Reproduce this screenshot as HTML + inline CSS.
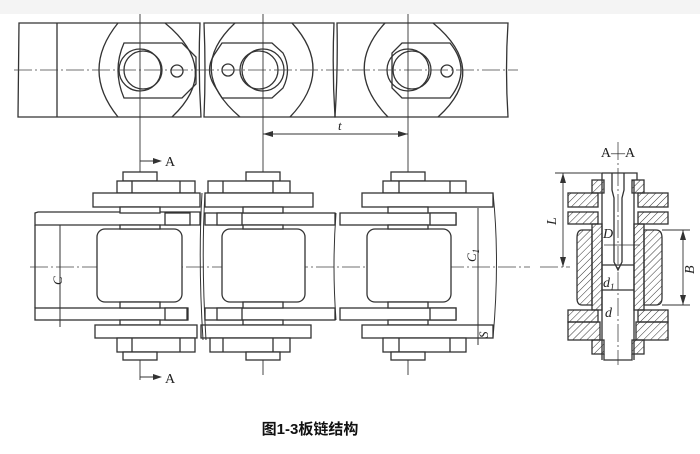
<!DOCTYPE html>
<html><head><meta charset="utf-8"><style>
html,body{margin:0;padding:0;background:#fff;}
svg{display:block}
</style></head><body>
<svg width="700" height="454" viewBox="0 0 700 454" xmlns="http://www.w3.org/2000/svg">
<defs>
<pattern id="h" width="5" height="5" patternUnits="userSpaceOnUse" patternTransform="rotate(45)">
<line x1="0" y1="0" x2="0" y2="5" stroke="#333" stroke-width="1"/>
</pattern>
</defs>
<rect x="0" y="0" width="700" height="14" fill="#f4f4f4"/>
<rect x="0" y="390" width="700" height="64" fill="#fff"/>
<g fill="none" stroke="#333" stroke-width="1.3">
<!-- top view links -->
<path d="M19 23 L200 23 Q198 70 201 117 L18 117 Z"/>
<path d="M204 23 L334 23 Q332 70 335 117 L204 117 Q206 70 204 23 Z"/>
<path d="M337 23 L508 23 Q505 70 508 117 L335 117 Q338 70 337 23 Z"/>
<line x1="57" y1="23" x2="57" y2="117"/>
<!-- link1 -->
<path d="M118 23 Q80 70 118 117"/><path d="M165 23 Q222 70 172 117"/>
<path d="M124 43 L182 43 L196 57 L196 84 L182 98 L124 98 Q112 70 124 43 Z"/>
<circle cx="140" cy="70" r="21"/><circle cx="143" cy="70" r="19"/>
<circle cx="177" cy="71" r="6"/>
<!-- link2 -->
<path d="M235 23 Q185 70 240 117"/><path d="M292 23 Q335 70 290 117"/>
<path d="M222 43 L272 43 L283 53 Q292 70 283 88 L272 98 L222 98 L214 85 Q205 70 214 55 Z"/>
<circle cx="263" cy="70" r="21"/><circle cx="259" cy="70" r="19"/>
<circle cx="228" cy="70" r="6"/>
<!-- link3 -->
<path d="M385 23 Q342 70 388 117"/><path d="M433 23 Q490 70 438 117"/>
<path d="M402 43 L450 43 Q472 70 450 98 L402 98 L392 88 L392 53 Z"/>
<circle cx="408" cy="70" r="21"/><circle cx="412" cy="70" r="19"/>
<circle cx="447" cy="71" r="6"/>
</g>
<g stroke="#444" stroke-width="0.8" fill="none" stroke-dasharray="18,3,2,3">
<line x1="14" y1="70" x2="518" y2="70"/>
<line x1="30" y1="267" x2="530" y2="267"/>
<line x1="540" y1="267" x2="570" y2="267"/>
<line x1="618" y1="142" x2="618" y2="365"/>
</g>
<g stroke="#333" stroke-width="0.9">
<line x1="140" y1="14" x2="140" y2="380"/>
<line x1="263" y1="14" x2="263" y2="375"/>
<line x1="408" y1="14" x2="408" y2="375"/>
<line x1="263" y1="134" x2="408" y2="134"/>
</g>
<path d="M263 134 l10 -3 v6 Z M408 134 l-10 -3 v6 Z" fill="#333"/>
<text x="338" y="130" font-family="Liberation Serif,serif" font-style="italic" font-size="13" fill="#222">t</text>
<!-- A arrows -->
<line x1="140" y1="161" x2="155" y2="161" stroke="#333"/><path d="M162 161 l-9 -3 v6 Z" fill="#333"/>
<text x="165" y="166" font-family="Liberation Serif,serif" font-size="14" fill="#222">A</text>
<line x1="140" y1="377" x2="155" y2="377" stroke="#333"/><path d="M162 377 l-9 -3 v6 Z" fill="#333"/>
<text x="165" y="383" font-family="Liberation Serif,serif" font-size="14" fill="#222">A</text>
<!-- front view -->
<g fill="#fff" stroke="#333" stroke-width="1.3">
<!-- sidebars -->
<path d="M35 213 L38 212 L200 212 L200 225 L35 225 Z"/>
<rect x="35" y="308" width="153" height="12"/>
<rect x="205" y="213" width="130" height="12"/>
<rect x="205" y="308" width="130" height="12"/>
<rect x="340" y="213" width="116" height="12"/>
<rect x="340" y="308" width="116" height="12"/>
<rect x="165" y="213" width="25" height="12"/><rect x="165" y="308" width="22" height="12"/>
<rect x="217" y="213" width="25" height="12"/><rect x="217" y="308" width="25" height="12"/>
<rect x="430" y="213" width="26" height="12"/><rect x="430" y="308" width="26" height="12"/>
<line x1="35" y1="225" x2="35" y2="308"/>
<!-- rollers -->
<rect x="97" y="229" width="85" height="73" rx="8"/>
<rect x="222" y="229" width="83" height="73" rx="8"/>
<rect x="367" y="229" width="84" height="73" rx="8"/>
</g>
<g fill="#fff" stroke="#333" stroke-width="1.3">
<!-- pin1 -->
<rect x="123" y="172" width="34" height="9"/><rect x="117" y="181" width="78" height="12"/>
<rect x="93" y="193" width="107" height="14"/><rect x="120" y="207" width="40" height="6"/><rect x="120" y="225" width="40" height="4"/>
<rect x="120" y="302" width="40" height="6"/><rect x="120" y="320" width="40" height="5"/>
<rect x="95" y="325" width="102" height="13"/><rect x="117" y="338" width="78" height="14"/><rect x="123" y="352" width="34" height="8"/>
<line x1="132" y1="181" x2="132" y2="193"/><line x1="180" y1="181" x2="180" y2="193"/>
<line x1="132" y1="338" x2="132" y2="352"/><line x1="180" y1="338" x2="180" y2="352"/>
<!-- pin2 -->
<rect x="246" y="172" width="34" height="9"/><rect x="208" y="181" width="82" height="12"/>
<rect x="205" y="193" width="108" height="14"/><rect x="243" y="207" width="40" height="6"/><rect x="243" y="225" width="40" height="4"/>
<rect x="243" y="302" width="40" height="6"/><rect x="243" y="320" width="40" height="5"/>
<rect x="201" y="325" width="110" height="13"/><rect x="210" y="338" width="80" height="14"/><rect x="246" y="352" width="34" height="8"/>
<line x1="223" y1="181" x2="223" y2="193"/><line x1="273" y1="181" x2="273" y2="193"/>
<line x1="223" y1="338" x2="223" y2="352"/><line x1="273" y1="338" x2="273" y2="352"/>
<!-- pin3 -->
<rect x="391" y="172" width="34" height="9"/><rect x="383" y="181" width="83" height="12"/>
<rect x="362" y="193" width="131" height="14"/><rect x="388" y="207" width="40" height="6"/><rect x="388" y="225" width="40" height="4"/>
<rect x="388" y="302" width="40" height="6"/><rect x="388" y="320" width="40" height="5"/>
<rect x="362" y="325" width="131" height="13"/><rect x="383" y="338" width="83" height="14"/><rect x="391" y="352" width="34" height="8"/>
<line x1="399" y1="181" x2="399" y2="193"/><line x1="450" y1="181" x2="450" y2="193"/>
<line x1="399" y1="338" x2="399" y2="352"/><line x1="450" y1="338" x2="450" y2="352"/>
</g>
<g stroke="#333" stroke-width="1" fill="none">
<path d="M202 193 Q198 260 203 340"/><path d="M205 193 Q201 260 206 340"/>
<path d="M336 213 Q332 266 336 320"/><path d="M493 193 Q500 260 493 338"/>
<line x1="60" y1="225" x2="60" y2="327"/>
<line x1="478" y1="208" x2="478" y2="345"/>
</g>
<text transform="translate(62,285) rotate(-90)" font-family="Liberation Serif,serif" font-style="italic" font-size="13" fill="#222">C</text>
<text transform="translate(476,262) rotate(-90)" font-family="Liberation Serif,serif" font-style="italic" font-size="13" fill="#222">C<tspan font-size="9" dy="3">1</tspan></text>
<text transform="translate(488,338) rotate(-90)" font-family="Liberation Serif,serif" font-style="italic" font-size="13" fill="#222">S</text>
<!-- section A-A -->
<text x="618" y="157" text-anchor="middle" font-family="Liberation Serif,serif" font-size="14" fill="#222">A—A</text>
<g stroke="#333" stroke-width="1.3">
<rect x="568" y="193" width="30" height="14" fill="url(#h)"/><rect x="638" y="193" width="30" height="14" fill="url(#h)"/>
<rect x="568" y="212" width="30" height="12" fill="url(#h)"/><rect x="638" y="212" width="30" height="12" fill="url(#h)"/>
<rect x="592" y="180" width="12" height="13" fill="url(#h)"/><rect x="632" y="180" width="12" height="13" fill="url(#h)"/>
<rect x="568" y="310" width="30" height="12" fill="url(#h)"/><rect x="638" y="310" width="30" height="12" fill="url(#h)"/>
<rect x="568" y="322" width="32" height="18" fill="url(#h)"/><rect x="636" y="322" width="32" height="18" fill="url(#h)"/>
<rect x="592" y="340" width="12" height="14" fill="url(#h)"/><rect x="632" y="340" width="12" height="14" fill="url(#h)"/>
<rect x="592" y="224" width="10" height="86" fill="url(#h)"/><rect x="634" y="224" width="10" height="86" fill="url(#h)"/>
<path d="M582 230 L592 230 L592 305 L582 305 Q577 305 577 298 L577 238 Q577 230 582 230 Z" fill="url(#h)"/>
<path d="M644 230 L656 230 Q662 230 662 238 L662 298 Q662 305 656 305 L644 305 Z" fill="url(#h)"/>
<g fill="none">
<path d="M602 173 L637 173 L637 180 M602 173 L602 180"/>
<line x1="602" y1="180" x2="602" y2="360"/><line x1="634" y1="180" x2="634" y2="360"/>
<path d="M604 354 L604 360 L632 360 L632 354"/>
<path d="M612 173 L612 190 L614 198 L614 262 L618 270 L622 262 L622 198 L624 190 L624 173"/>
<line x1="602" y1="265" x2="634" y2="265"/><line x1="602" y1="290" x2="634" y2="290"/>
<line x1="604" y1="245" x2="640" y2="245" stroke-width="0.8"/>
</g>
</g>
<g stroke="#333" stroke-width="0.9">
<line x1="555" y1="173" x2="602" y2="173"/>
<line x1="563" y1="173" x2="563" y2="267"/>
<line x1="662" y1="230" x2="690" y2="230"/><line x1="662" y1="305" x2="690" y2="305"/>
<line x1="683" y1="230" x2="683" y2="305"/>
</g>
<path d="M563 173 l-3 10 h6 Z M563 267 l-3 -10 h6 Z M683 230 l-3 10 h6 Z M683 305 l-3 -10 h6 Z" fill="#333"/>
<text transform="translate(556,225) rotate(-90)" font-family="Liberation Serif,serif" font-style="italic" font-size="14" fill="#222">L</text>
<text transform="translate(694,274) rotate(-90)" font-family="Liberation Serif,serif" font-style="italic" font-size="14" fill="#222">B</text>
<text x="603" y="238" font-family="Liberation Serif,serif" font-style="italic" font-size="14" fill="#222">D</text>
<text x="603" y="287" font-family="Liberation Serif,serif" font-style="italic" font-size="14" fill="#222">d<tspan font-size="9" dy="3">1</tspan></text>
<text x="605" y="317" font-family="Liberation Serif,serif" font-style="italic" font-size="14" fill="#222">d</text>
<text x="310" y="434" text-anchor="middle" font-family="Liberation Sans,'Noto Sans CJK SC',sans-serif" font-weight="bold" font-size="15" fill="#111">图1-3板链结构</text>
</svg>
</body></html>
